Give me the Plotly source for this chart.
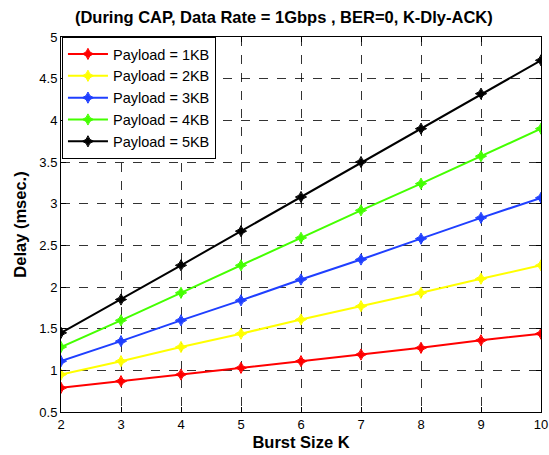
import plotly.graph_objects as go

burst_k = [2, 3, 4, 5, 6, 7, 8, 9, 10]
payload_1kb = [0.79, 0.87, 0.95, 1.03, 1.11, 1.19, 1.27, 1.36, 1.44]
payload_2kb = [0.95, 1.11, 1.28, 1.44, 1.61, 1.77, 1.93, 2.10, 2.26]
payload_3kb = [1.11, 1.35, 1.60, 1.84, 2.09, 2.33, 2.58, 2.83, 3.07]
payload_4kb = [1.28, 1.60, 1.93, 2.26, 2.59, 2.92, 3.24, 3.57, 3.90]
payload_5kb = [1.45, 1.85, 2.26, 2.67, 3.08, 3.50, 3.90, 4.32, 4.72]

series_names = ["Payload = 1KB", "Payload = 2KB", "Payload = 3KB", "Payload = 4KB", "Payload = 5KB"]
series_values = [payload_1kb, payload_2kb, payload_3kb, payload_4kb, payload_5kb]
series_colors = ["#ff0000", "#ffff00", "#1f3fff", "#44ff00", "#000000"]

x_ticks = [2, 3, 4, 5, 6, 7, 8, 9, 10]
y_ticks = [0.5, 1, 1.5, 2, 2.5, 3, 3.5, 4, 4.5, 5]

fig = go.Figure()
for name, vals, col in zip(series_names, series_values, series_colors):
    fig.add_trace(go.Scatter(
        x=burst_k, y=vals, name=name, mode="lines+markers",
        line=dict(color=col, width=2),
        marker=dict(symbol="star-diamond", size=8, color=col,
                    line=dict(color=col, width=1)),
    ))

axis_common = dict(
    showline=True, linecolor="black", linewidth=1, mirror="ticks",
    ticks="inside", ticklen=5, tickcolor="black",
    showgrid=True, gridcolor="rgba(0,0,0,0.8)", griddash="dash", gridwidth=1,
    zeroline=False, automargin=False,
    tickfont=dict(family="Liberation Sans, Arial", size=13, color="black"),
)

fig.update_layout(
    width=549, height=455,
    margin=dict(l=61, r=8, t=37, b=43),
    paper_bgcolor="white", plot_bgcolor="white",
    title=dict(text="<b>(During CAP, Data Rate = 1Gbps , BER=0, K-Dly-ACK)</b>",
               x=0.517, xanchor="center", y=0.962, yanchor="middle",
               font=dict(family="Liberation Sans, Arial", size=16.5, color="black")),
    xaxis=dict(axis_common, range=[2, 10], tickvals=x_ticks,
               title=dict(text="<b>Burst Size K</b>", standoff=5,
                          font=dict(family="Liberation Sans, Arial", size=16.5, color="black"))),
    yaxis=dict(axis_common, range=[0.5, 5], tickvals=y_ticks,
               ticktext=[("%g" % v) for v in y_ticks],
               title=dict(text="<b>Delay (msec.)</b>", standoff=8,
                          font=dict(family="Liberation Sans, Arial", size=16.5, color="black"))),
    legend=dict(x=0.002, y=1.0, xanchor="left", yanchor="top",
                bgcolor="white", bordercolor="black", borderwidth=1,
                font=dict(family="Liberation Sans, Arial", size=14.5, color="black"),
                tracegroupgap=0, itemwidth=40),
    showlegend=True,
)

fig.write_html("out.html")
